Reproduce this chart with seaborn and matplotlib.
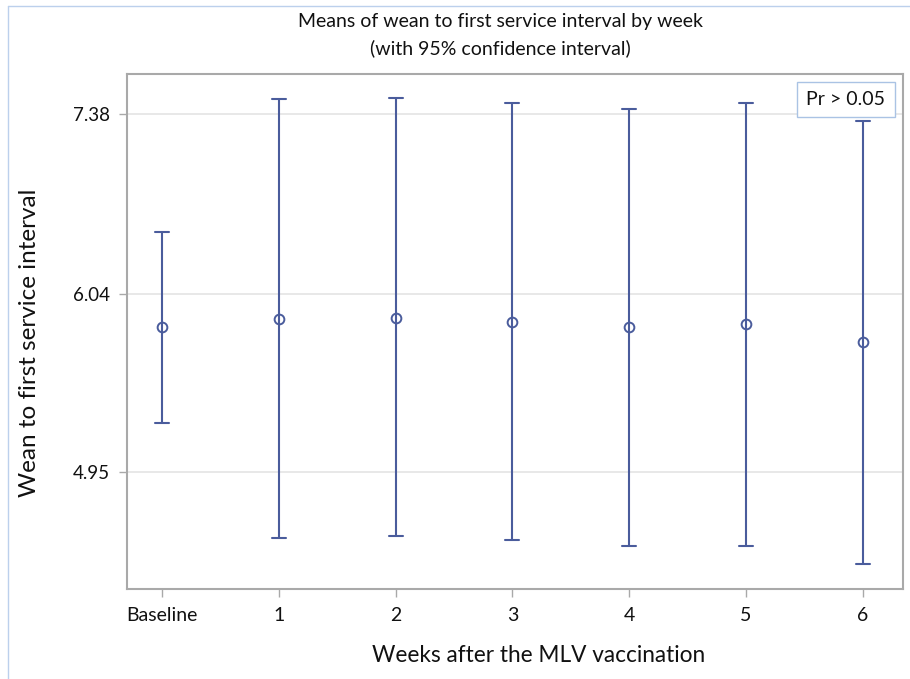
import numpy as np
import pandas as pd
import matplotlib
matplotlib.use("Agg")
import matplotlib.pyplot as plt
from matplotlib.lines import Line2D
from matplotlib.patches import Rectangle
from matplotlib.ticker import NullLocator, NullFormatter, FixedLocator, FixedFormatter
import seaborn as sns

# Wean-to-first-service interval: mean and 95% CI per week
categories = ["Baseline", "1", "2", "3", "4", "5", "6"]
means = [5.82, 5.87, 5.88, 5.85, 5.82, 5.84, 5.72]
lower = [5.23, 4.60, 4.61, 4.59, 4.56, 4.56, 4.47]
upper = [6.47, 7.50, 7.51, 7.47, 7.42, 7.47, 7.32]
y_ticks = [4.95, 6.04, 7.38]
y_tick_labels = ["4.95", "6.04", "7.38"]
annotation = "Pr > 0.05"

title_lines = ["Means of wean to first service interval by week",
               "(with 95% confidence interval)"]
x_label = "Weeks after the MLV vaccination"
y_label = "Wean to first service interval"

# Long table: lower / mean / upper per week, so median = mean and
# the full percentile interval = the confidence interval
rows = []
for c, lo, m, hi in zip(categories, lower, means, upper):
    for v in (lo, m, hi):
        rows.append({"week": c, "value": v})
df = pd.DataFrame(rows)

sns.set_theme(style="white")
plt.rcParams["font.family"] = ["Lato", "DejaVu Sans"]

W, H = 910, 679
fig = plt.figure(figsize=(W / 100, H / 100), dpi=100)
ax = fig.add_axes([126.7 / W, 1 - 589 / H, 776 / W, 515 / H])

blue = "#4a5c9c"
txt = "#111111"
ax.set_yscale("log")
sns.pointplot(data=df, x="week", y="value", order=categories,
              estimator="median", errorbar=("pi", 100),
              color=blue, markers="o", linestyles="none",
              capsize=0.12, err_kws={"linewidth": 1.5},
              markersize=7, markeredgewidth=1.4,
              markerfacecolor="none", ax=ax)

for ln in ax.lines:
    if ln.get_marker() == "o":
        ln.set_markerfacecolor("none")

ax.set_ylim(4.345, 7.716)
ax.set_xlim(-0.302, 6.342)
ax.yaxis.set_major_locator(FixedLocator(y_ticks))
ax.yaxis.set_major_formatter(FixedFormatter(y_tick_labels))
ax.yaxis.set_minor_locator(NullLocator())
ax.yaxis.set_minor_formatter(NullFormatter())

ax.set_xlabel("")
ax.set_ylabel("")
ax.yaxis.grid(True, color="#e6e6e6", linewidth=1.3)
ax.set_axisbelow(True)

for s in ax.spines.values():
    s.set_color("#a9a9a9")
    s.set_linewidth(1.5)

ax.tick_params(axis="y", which="major", left=True, length=6, width=1,
               color="#a9a9a9", labelsize=13.5, pad=6, labelcolor=txt)
ax.tick_params(axis="x", which="major", bottom=True, length=6, width=1,
               color="#a9a9a9", labelsize=14, pad=7, labelcolor=txt)

# annotation box in the upper right
ax.add_patch(Rectangle(((796.7 - 126.7) / 776, (589 - 117.3) / 515),
                       98.3 / 776, 35.6 / 515, transform=ax.transAxes,
                       facecolor="white", edgecolor="#aac3e4", linewidth=1.0,
                       zorder=5))
ax.text((845.8 - 126.7) / 776, (589 - 99.5) / 515, annotation,
        transform=ax.transAxes, ha="center", va="center", fontsize=14,
        color=txt, zorder=6)

# titles and axis labels
fig.text(500 / W, 1 - 21 / H, title_lines[0], ha="center", va="center",
         fontsize=14, color=txt)
fig.text(500 / W, 1 - 48 / H, title_lines[1], ha="center", va="center",
         fontsize=14, color=txt)
fig.text(539 / W, 1 - 655 / H, x_label, ha="center", va="center",
         fontsize=16.3, color=txt)
fig.text(30 / W, 1 - 343 / H, y_label, ha="center", va="center",
         rotation=90, fontsize=17.5, color=txt)

# thin frame on the left and top
frame_c = "#bcd0ec"
fig.add_artist(Line2D([8 / W, 8 / W], [0, 1 - 6 / H], transform=fig.transFigure,
                      color=frame_c, linewidth=1.0))
fig.add_artist(Line2D([8 / W, 1], [1 - 6 / H, 1 - 6 / H], transform=fig.transFigure,
                      color=frame_c, linewidth=1.0))

fig.savefig("out.png", dpi=100)
